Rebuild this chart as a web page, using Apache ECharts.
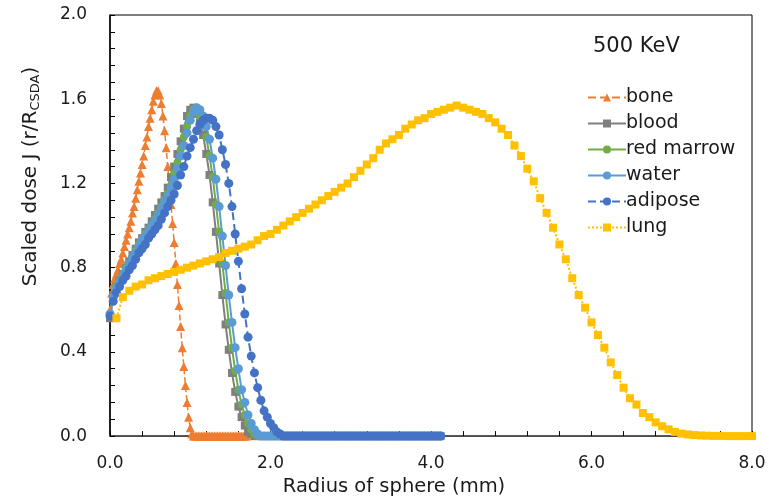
<!DOCTYPE html>
<html><head><meta charset="utf-8">
<script src="https://cdn.jsdelivr.net/npm/echarts@6/dist/echarts.min.js"></script>
<style>html,body{margin:0;padding:0;background:#fff}#c{width:771px;height:502px}</style>
</head><body><div id="c"></div>
<script>
const seriesNames = ['bone', 'blood', 'red marrow', 'water', 'adipose', 'lung'];
const xTickLabels = ['0.0', '2.0', '4.0', '6.0', '8.0'];
const yTickLabels = ['0.0', '0.4', '0.8', '1.2', '1.6', '2.0'];

// radius (mm) grids
const radiusBone = [0,0.02,0.04,0.06,0.08,0.10,0.12,0.14,0.16,0.18,0.20,0.22,0.24,0.26,0.28,0.30,0.32,0.34,0.36,0.38,0.40,0.42,0.44,0.46,0.48,0.50,0.52,0.54,0.56,0.58,0.60,0.62,0.64,0.66,0.68,0.70,0.72,0.74,0.76,0.78,0.80,0.82,0.84,0.86,0.88,0.90,0.92,0.94,0.96,0.98,1.00,1.02,1.04,1.06,1.08,1.10,1.12,1.14,1.16,1.18,1.20,1.22,1.24,1.26,1.28,1.30,1.32,1.34,1.36,1.38,1.40,1.42,1.44,1.46,1.48,1.50,1.52,1.54,1.56,1.58,1.60,1.62,1.64,1.66,1.68,1.70];
const radiusTissue = [0,0.04,0.08,0.12,0.16,0.20,0.24,0.28,0.32,0.36,0.40,0.44,0.48,0.52,0.56,0.60,0.64,0.68,0.72,0.76,0.80,0.84,0.88,0.92,0.96,1.00,1.04,1.08,1.12,1.16,1.20,1.24,1.28,1.32,1.36,1.40,1.44,1.48,1.52,1.56,1.60,1.64,1.68,1.72,1.76,1.80,1.84,1.88,1.92,1.96,2.00,2.04,2.08,2.12,2.16,2.20,2.24,2.28,2.32,2.36,2.40,2.44,2.48,2.52,2.56,2.60,2.64,2.68,2.72,2.76,2.80,2.84,2.88,2.92,2.96,3.00,3.04,3.08,3.12,3.16,3.20,3.24,3.28,3.32,3.36,3.40,3.44,3.48,3.52,3.56,3.60,3.64,3.68,3.72,3.76,3.80,3.84,3.88,3.92,3.96,4.00,4.04,4.08,4.12];
const radiusLung = [0.08,0.16,0.24,0.32,0.40,0.48,0.56,0.64,0.72,0.80,0.88,0.96,1.04,1.12,1.20,1.28,1.36,1.44,1.52,1.60,1.68,1.76,1.84,1.92,2.00,2.08,2.16,2.24,2.32,2.40,2.48,2.56,2.64,2.72,2.80,2.88,2.96,3.04,3.12,3.20,3.28,3.36,3.44,3.52,3.60,3.68,3.76,3.84,3.92,4.00,4.08,4.16,4.24,4.32,4.40,4.48,4.56,4.64,4.72,4.80,4.88,4.96,5.04,5.12,5.20,5.28,5.36,5.44,5.52,5.60,5.68,5.76,5.84,5.92,6.00,6.08,6.16,6.24,6.32,6.40,6.48,6.56,6.64,6.72,6.80,6.88,6.96,7.04,7.12,7.20,7.28,7.36,7.44,7.52,7.60,7.68,7.76,7.84,7.92,8.00];

// scaled dose J values
const boneJ = [0.60,0.68,0.72,0.75,0.77,0.79,0.82,0.84,0.87,0.90,0.93,0.96,0.99,1.02,1.06,1.09,1.13,1.17,1.21,1.25,1.29,1.33,1.38,1.42,1.47,1.51,1.55,1.59,1.62,1.64,1.64,1.62,1.58,1.52,1.45,1.37,1.28,1.19,1.10,1.01,0.92,0.82,0.72,0.62,0.52,0.42,0.33,0.24,0.16,0.09,0.04,0.01,0,0,0,0,0,0,0,0,0,0,0,0,0,0,0,0,0,0,0,0,0,0,0,0,0,0,0,0,0,0,0,0,0,0];
const bloodJ = [0.56,0.67,0.71,0.74,0.77,0.80,0.83,0.86,0.89,0.92,0.94,0.97,0.99,1.02,1.05,1.08,1.11,1.14,1.18,1.23,1.28,1.34,1.40,1.46,1.52,1.55,1.56,1.53,1.49,1.43,1.34,1.24,1.11,0.97,0.82,0.67,0.53,0.41,0.30,0.21,0.14,0.09,0.05,0.02,0.01,0,0,0,0,0,0,0,0,0,0,0,0,0,0,0,0,0,0,0,0,0,0,0,0,0,0,0,0,0,0,0,0,0,0,0,0,0,0,0,0,0,0,0,0,0,0,0,0,0,0,0,0,0,0,0,0,0,0,0];
const marrowJ = [0.58,0.66,0.71,0.74,0.77,0.80,0.82,0.85,0.88,0.91,0.93,0.96,0.98,1.00,1.03,1.06,1.09,1.12,1.15,1.19,1.25,1.30,1.36,1.42,1.47,1.52,1.55,1.55,1.52,1.48,1.42,1.33,1.23,1.10,0.97,0.82,0.68,0.54,0.42,0.31,0.22,0.15,0.10,0.06,0.03,0.01,0,0,0,0,0,0,0,0,0,0,0,0,0,0,0,0,0,0,0,0,0,0,0,0,0,0,0,0,0,0,0,0,0,0,0,0,0,0,0,0,0,0,0,0,0,0,0,0,0,0,0,0,0,0,0,0,0,0];
const waterJ = [0.58,0.66,0.70,0.73,0.76,0.79,0.82,0.85,0.87,0.90,0.93,0.95,0.97,1.00,1.02,1.05,1.08,1.11,1.14,1.18,1.22,1.27,1.33,1.38,1.44,1.50,1.54,1.56,1.55,1.52,1.47,1.41,1.32,1.22,1.09,0.95,0.81,0.67,0.54,0.42,0.32,0.22,0.16,0.10,0.06,0.03,0.01,0,0,0,0,0,0,0,0,0,0,0,0,0,0,0,0,0,0,0,0,0,0,0,0,0,0,0,0,0,0,0,0,0,0,0,0,0,0,0,0,0,0,0,0,0,0,0,0,0,0,0,0,0,0,0,0,0];
const adiposeJ = [0.57,0.64,0.68,0.71,0.74,0.76,0.79,0.81,0.84,0.87,0.89,0.91,0.94,0.96,0.98,1.00,1.03,1.06,1.09,1.12,1.15,1.19,1.24,1.28,1.33,1.37,1.41,1.45,1.48,1.50,1.51,1.51,1.50,1.47,1.43,1.36,1.29,1.20,1.09,0.96,0.83,0.70,0.58,0.47,0.38,0.30,0.23,0.17,0.12,0.09,0.06,0.04,0.02,0.01,0,0,0,0,0,0,0,0,0,0,0,0,0,0,0,0,0,0,0,0,0,0,0,0,0,0,0,0,0,0,0,0,0,0,0,0,0,0,0,0,0,0,0,0,0,0,0,0,0,0];
const lungJ = [0.56,0.66,0.69,0.71,0.72,0.74,0.75,0.76,0.77,0.78,0.79,0.80,0.81,0.82,0.83,0.84,0.85,0.87,0.88,0.89,0.90,0.91,0.93,0.95,0.96,0.98,1.00,1.02,1.04,1.06,1.08,1.10,1.12,1.14,1.16,1.18,1.20,1.23,1.26,1.29,1.32,1.36,1.39,1.41,1.43,1.46,1.48,1.50,1.51,1.53,1.54,1.55,1.56,1.57,1.56,1.55,1.54,1.53,1.51,1.49,1.46,1.43,1.38,1.33,1.27,1.21,1.13,1.06,0.99,0.91,0.84,0.75,0.67,0.61,0.54,0.48,0.42,0.35,0.29,0.23,0.18,0.15,0.11,0.09,0.065,0.047,0.032,0.02,0.012,0.008,0.005,0.003,0.002,0.001,0.001,0,0,0,0,0];

const pair = (xs, ys) => xs.map((x, i) => [x, ys[i]]);
const FONT = 'DejaVu Sans';
const TXT = '#1a1a1a';
const chart = echarts.init(document.getElementById('c'), null, {renderer: 'canvas'});

function mk(name, xs, ys, color, symbol, size, lineType, lineWidth) {
  return {
    name: name, type: 'line', data: pair(xs, ys),
    symbol: symbol, symbolSize: size, showSymbol: true,
    itemStyle: {color: color},
    lineStyle: {color: color, type: lineType, width: lineWidth},
    animation: false, emphasis: {disabled: true}
  };
}

const option = {
  animation: false,
  textStyle: {fontFamily: FONT},
  title: {
    text: '500 KeV', left: 588, top: 31,
    textStyle: {fontFamily: FONT, fontSize: 21, fontWeight: 'normal', color: TXT}
  },
  legend: {
    orient: 'vertical', left: 582, top: 83,
    itemWidth: 38, itemHeight: 10, itemGap: 7,
    data: seriesNames,
    textStyle: {fontFamily: FONT, fontSize: 19, lineHeight: 19, color: TXT, padding: [0, 0, 0, -5]}
  },
  grid: {left: 110, right: 19, top: 15, bottom: 64, show: true, borderColor: '#000', borderWidth: 1},
  xAxis: {
    type: 'value', min: 0, max: 8, interval: 2,
    name: 'Radius of sphere (mm)', nameLocation: 'middle', nameGap: 36,
    nameTextStyle: {fontFamily: FONT, fontSize: 19.5, color: TXT, padding: [0, 74, 0, 0]},
    axisLine: {show: true, lineStyle: {color: '#444', width: 1.5}},
    axisTick: {show: true, inside: true, length: 5, lineStyle: {color: '#000'}},
    minorTick: {show: true, splitNumber: 5, length: 5, lineStyle: {color: '#000'}},
    splitLine: {show: false},
    axisLabel: {fontFamily: FONT, fontSize: 17, color: TXT, margin: 19,
      formatter: v => xTickLabels[Math.round(v / 2)]}
  },
  yAxis: {
    type: 'value', min: 0, max: 2, interval: 0.4,
    name: '{a|Scaled dose J (r/R}{s|CSDA}{a|)}', nameLocation: 'middle', nameGap: 68,
    nameTextStyle: {
      padding: [0, 0, 0, 98],
      rich: {
        a: {fontFamily: FONT, fontSize: 20, color: TXT},
        s: {fontFamily: FONT, fontSize: 13, color: TXT, verticalAlign: 'bottom', padding: [9, 0, 0, 0]}
      }
    },
    axisLine: {show: true, lineStyle: {color: '#000', width: 1.5}},
    axisTick: {show: true, inside: true, length: 5, lineStyle: {color: '#000'}},
    minorTick: {show: true, splitNumber: 5, length: 5, lineStyle: {color: '#000'}},
    splitLine: {show: false},
    axisLabel: {fontFamily: FONT, fontSize: 17, color: TXT, margin: 23,
      formatter: v => yTickLabels[Math.round(v / 0.4)]}
  },
  series: [
    mk('bone', radiusBone, boneJ, '#ED7D31', 'triangle', 9, 'dashed', 1.5),
    mk('blood', radiusTissue, bloodJ, '#7F7F7F', 'rect', 8, 'solid', 2),
    mk('red marrow', radiusTissue, marrowJ, '#70AD47', 'circle', 8, 'solid', 2),
    mk('water', radiusTissue, waterJ, '#5B9BD5', 'circle', 9, 'solid', 2),
    mk('adipose', radiusTissue, adiposeJ, '#4472C4', 'circle', 9, 'dashed', 2),
    mk('lung', radiusLung, lungJ, '#FFC000', 'rect', 8, 'dotted', 2)
  ]
};
chart.setOption(option);
</script>
</body></html>
